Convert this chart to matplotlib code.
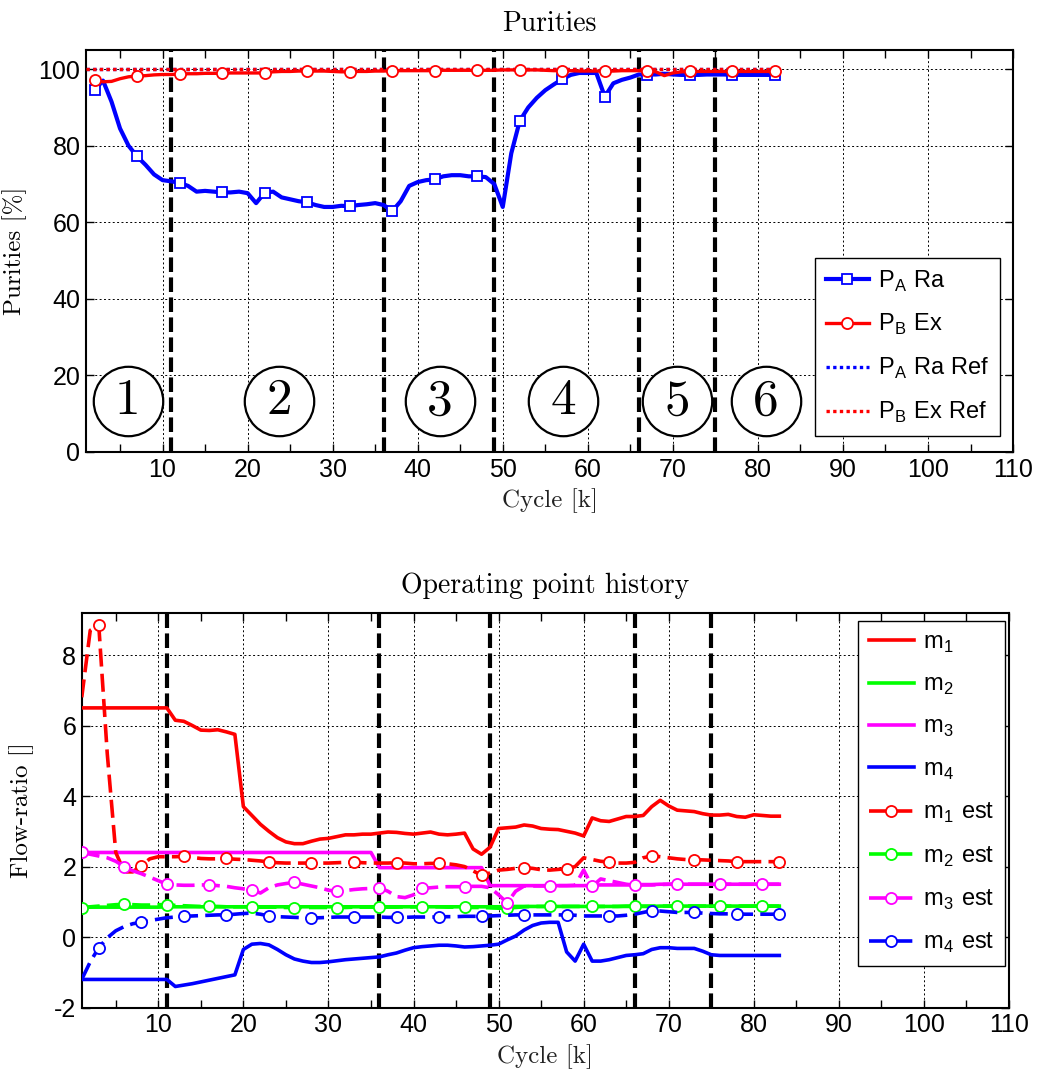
import matplotlib
matplotlib.use('Agg')
import matplotlib.pyplot as plt
import numpy as np
from matplotlib.ticker import MultipleLocator

plt.rcParams['font.family'] = 'Liberation Sans'
plt.rcParams['mathtext.fontset'] = 'cm'
plt.rcParams['axes.unicode_minus'] = False

# ---- Purities (cycles 2..82)
cyc_p = np.arange(2, 83)
pa_ra = [94.5, 97.0, 91.5, 84.5, 80.0, 77.2, 75.0, 72.5, 71.0, 70.7,
         70.3, 69.5, 68.0, 68.2, 68.0, 67.8, 67.8, 68.0, 67.6, 65.0,
         67.7, 68.0, 66.5, 66.0, 65.5, 65.2, 64.5, 64.0, 64.0, 64.3,
         64.2, 64.5, 64.7, 65.0, 64.5, 62.9, 65.5, 69.5, 70.5, 71.0,
         71.2, 72.0, 72.3, 72.3, 72.0, 72.0, 71.8, 70.0, 64.0, 78.0,
         86.5, 90.0, 92.5, 94.5, 96.0, 97.4, 98.5, 99.0, 99.0, 99.0,
         92.8, 96.3, 97.2, 97.8, 98.6, 98.6, 98.6, 98.8, 98.6, 98.5,
         98.5, 98.5, 98.6, 98.6, 98.6, 98.5, 98.5, 98.5, 98.5, 98.5,
         98.5]
pb_ex = [97.2, 96.7, 96.8, 97.5, 98.0, 98.2, 98.3, 98.5, 98.6, 98.6,
         98.7, 98.8, 98.8, 98.9, 98.9, 98.9, 99.0, 99.0, 99.0, 99.0,
         99.0, 99.3, 99.4, 99.4, 99.5, 99.5, 99.5, 99.5, 99.4, 99.3,
         99.3, 99.4, 99.4, 99.5, 99.5, 99.6, 99.6, 99.6, 99.6, 99.6,
         99.6, 99.7, 99.7, 99.7, 99.7, 99.7, 99.7, 99.7, 99.8, 99.8,
         99.8, 99.8, 99.8, 99.7, 99.6, 99.6, 99.6, 99.5, 99.5, 99.5,
         99.5, 99.5, 99.6, 99.6, 99.6, 99.6, 99.3, 98.3, 99.0, 99.3,
         99.4, 99.4, 99.4, 99.4, 99.4, 99.4, 99.4, 99.4, 99.4, 99.4,
         99.4]
cyc_ref = [1, 82]
pa_ref = [100, 100]
pb_ref = [100, 100]

# ---- Operating point history (cycles 1..83)
cyc_m = np.arange(1, 84)
m1 = [6.5, 6.5, 6.5, 6.5, 6.5, 6.5, 6.5, 6.5, 6.5, 6.5, 6.5,
      6.15, 6.12, 6.0, 5.87, 5.86, 5.88, 5.82, 5.75, 3.7, 3.45,
      3.2, 3.0, 2.82, 2.7, 2.65, 2.65, 2.72, 2.78, 2.8, 2.85,
      2.9, 2.9, 2.92, 2.92, 2.95, 2.98, 2.97, 2.94, 2.92, 2.95,
      2.98, 2.92, 2.9, 2.92, 2.95, 2.5, 2.35, 2.55, 3.08, 3.1,
      3.12, 3.18, 3.15, 3.08, 3.06, 3.05, 3.0, 2.95, 2.87, 3.38,
      3.3, 3.28, 3.35, 3.42, 3.42, 3.45, 3.7, 3.88, 3.72, 3.6,
      3.58, 3.56, 3.5, 3.46, 3.46, 3.48, 3.42, 3.4, 3.47, 3.45,
      3.43, 3.43]
m2 = [0.85, 0.85, 0.85, 0.85, 0.85, 0.85, 0.85, 0.85, 0.85, 0.85, 0.86,
      0.86, 0.86, 0.86, 0.86, 0.86, 0.86, 0.86, 0.86, 0.86, 0.86,
      0.86, 0.86, 0.86, 0.86, 0.86, 0.86, 0.86, 0.86, 0.86, 0.86,
      0.86, 0.86, 0.86, 0.86, 0.86, 0.86, 0.86, 0.86, 0.86, 0.86,
      0.86, 0.86, 0.86, 0.86, 0.86, 0.86, 0.86, 0.86, 0.86, 0.86,
      0.87, 0.87, 0.87, 0.87, 0.87, 0.87, 0.87, 0.87, 0.87, 0.87,
      0.87, 0.87, 0.87, 0.87, 0.87, 0.87, 0.87, 0.88, 0.88, 0.88,
      0.88, 0.88, 0.88, 0.88, 0.88, 0.88, 0.88, 0.88, 0.88, 0.88,
      0.88, 0.88]
m3 = [2.4, 2.4, 2.4, 2.4, 2.4, 2.4, 2.4, 2.4, 2.4, 2.4, 2.4,
      2.4, 2.4, 2.4, 2.4, 2.4, 2.4, 2.4, 2.4, 2.4, 2.4,
      2.4, 2.4, 2.4, 2.4, 2.4, 2.4, 2.4, 2.4, 2.4, 2.4,
      2.4, 2.4, 2.4, 2.4, 1.97, 1.97, 1.97, 1.97, 1.97, 1.97,
      1.97, 1.97, 1.97, 1.97, 1.97, 1.97, 1.97, 1.46, 1.46, 1.46,
      1.46, 1.46, 1.46, 1.46, 1.46, 1.46, 1.46, 1.46, 1.46, 1.47,
      1.48, 1.48, 1.48, 1.48, 1.49, 1.49, 1.49, 1.5, 1.5, 1.5,
      1.5, 1.5, 1.5, 1.5, 1.5, 1.5, 1.5, 1.5, 1.5, 1.5,
      1.5, 1.5]
m4 = [-1.2, -1.2, -1.2, -1.2, -1.2, -1.2, -1.2, -1.2, -1.2, -1.2, -1.2,
      -1.4, -1.36, -1.32, -1.27, -1.22, -1.17, -1.12, -1.07, -0.35, -0.2,
      -0.18, -0.22, -0.35, -0.5, -0.62, -0.68, -0.72, -0.72, -0.7, -0.67,
      -0.64, -0.62, -0.6, -0.58, -0.56, -0.5, -0.45, -0.37, -0.3, -0.27,
      -0.25, -0.23, -0.23, -0.25, -0.28, -0.27, -0.25, -0.23, -0.2, -0.08,
      0.03, 0.2, 0.33, 0.4, 0.42, 0.42, -0.42, -0.68, -0.2, -0.68,
      -0.68, -0.64, -0.58, -0.52, -0.5, -0.47, -0.35, -0.3, -0.3, -0.32,
      -0.32, -0.32, -0.4, -0.5, -0.52, -0.52, -0.52, -0.52, -0.52, -0.52,
      -0.52, -0.52]
m1_est = [6.8, 8.7, 8.85, 5.2, 2.4, 1.85, 1.85, 2.03, 2.22, 2.28, 2.28,
          2.28, 2.29, 2.26, 2.23, 2.22, 2.22, 2.23, 2.21, 2.2, 2.18,
          2.16, 2.13, 2.11, 2.1, 2.1, 2.1, 2.1, 2.1, 2.1, 2.11,
          2.12, 2.13, 2.11, 2.1, 2.1, 2.1, 2.11, 2.1, 2.08, 2.08,
          2.09, 2.09, 2.08, 2.05, 2.0, 1.88, 1.75, 1.82, 1.9, 1.92,
          1.95, 1.97, 1.95, 1.91, 1.9, 1.92, 1.94, 2.0, 2.25, 2.2,
          2.15, 2.13, 2.1, 2.1, 2.12, 2.25, 2.3, 2.28, 2.25, 2.22,
          2.2, 2.2, 2.19, 2.18, 2.17, 2.16, 2.14, 2.14, 2.14, 2.14,
          2.14, 2.14]
m2_est = [0.83, 0.86, 0.88, 0.9, 0.92, 0.93, 0.92, 0.91, 0.91, 0.92, 0.92,
          0.9, 0.89, 0.88, 0.87, 0.87, 0.87, 0.86, 0.86, 0.86, 0.86,
          0.85, 0.85, 0.85, 0.84, 0.84, 0.84, 0.84, 0.84, 0.84, 0.84,
          0.84, 0.85, 0.85, 0.85, 0.85, 0.85, 0.85, 0.86, 0.86, 0.86,
          0.86, 0.86, 0.85, 0.85, 0.85, 0.84, 0.84, 0.83, 0.82, 0.82,
          0.84, 0.86, 0.87, 0.87, 0.87, 0.87, 0.87, 0.87, 0.87, 0.87,
          0.87, 0.87, 0.87, 0.88, 0.88, 0.88, 0.88, 0.88, 0.88, 0.88,
          0.88, 0.88, 0.88, 0.88, 0.88, 0.88, 0.88, 0.88, 0.88, 0.88,
          0.88, 0.88]
m3_est = [2.4, 2.35, 2.3, 2.25, 2.15, 2.0, 1.88, 1.8, 1.7, 1.6, 1.5,
          1.48, 1.47, 1.47, 1.48, 1.48, 1.46, 1.44, 1.4, 1.37, 1.35,
          1.25, 1.4, 1.48, 1.52, 1.55, 1.5, 1.45, 1.4, 1.33, 1.3,
          1.32, 1.35, 1.37, 1.38, 1.4, 1.3, 1.15, 1.12, 1.2, 1.38,
          1.4, 1.42, 1.43, 1.43, 1.43, 1.44, 1.44, 1.4, 1.2, 0.97,
          1.3, 1.45, 1.45, 1.45, 1.45, 1.46, 1.46, 1.47, 1.9, 1.44,
          1.65, 1.6, 1.55, 1.5, 1.47, 1.48, 1.48, 1.49, 1.5, 1.5,
          1.5, 1.5, 1.5, 1.5, 1.5, 1.5, 1.5, 1.5, 1.5, 1.5,
          1.5, 1.5]
m4_est = [-1.2, -0.7, -0.3, -0.02, 0.18, 0.3, 0.38, 0.42, 0.47, 0.51, 0.55,
          0.57, 0.59, 0.6, 0.61, 0.62, 0.63, 0.63, 0.65, 0.67, 0.68,
          0.65, 0.6, 0.58, 0.57, 0.56, 0.55, 0.54, 0.55, 0.56, 0.57,
          0.57, 0.57, 0.57, 0.57, 0.57, 0.56, 0.56, 0.56, 0.57, 0.57,
          0.57, 0.57, 0.58, 0.58, 0.59, 0.59, 0.59, 0.6, 0.61, 0.62,
          0.63, 0.63, 0.63, 0.63, 0.63, 0.63, 0.63, 0.62, 0.6, 0.6,
          0.6, 0.6, 0.6, 0.62, 0.65, 0.7, 0.75, 0.74, 0.72, 0.7,
          0.7, 0.7, 0.68, 0.67, 0.66, 0.66, 0.66, 0.65, 0.65, 0.65,
          0.65, 0.65]

phase_bounds = [11, 36, 49, 66, 75]
phase_labels = ['1', '2', '3', '4', '5', '6']
phase_x = [5.9, 23.7, 42.6, 57.1, 70.5, 80.9]
phase_y = 13.2

serif = 'cmr10'

fig = plt.figure(figsize=(10.4, 10.73), dpi=100)
ax1 = fig.add_axes([0.0827, 0.5788, 0.8914, 0.3746])
ax2 = fig.add_axes([0.0786, 0.0609, 0.8916, 0.3681])


def style_axes(ax, ylim, yticks):
    ax.set_xlim(1, 110)
    ax.set_ylim(*ylim)
    ax.set_xticks(np.arange(10, 111, 10))
    ax.xaxis.set_minor_locator(MultipleLocator(5))
    ax.set_yticks(yticks)
    ax.tick_params(which='both', direction='in', top=True, right=True,
                   length=6, width=1, labelsize=18, pad=4)
    ax.grid(True, which='major', color='black', linestyle=(0, (2, 2.5)), linewidth=0.7)
    for s in ax.spines.values():
        s.set_linewidth(1.5)
    for xb in phase_bounds:
        ax.axvline(xb, color='black', linewidth=3.0, dashes=(3.5, 1.3), zorder=1.5)


# ---------- top
style_axes(ax1, (0, 105), np.arange(0, 101, 20))
ax1.plot(cyc_p, pa_ra, color='#0000FF', lw=3.0, marker='s', ms=7, mfc='white',
         mew=1.3, markevery=5, label='P$_{\\mathregular{A}}$ Ra', zorder=3)
ax1.plot(cyc_p, pb_ex, color='#FF0000', lw=2.4, marker='o', ms=8, mfc='white',
         mew=1.3, markevery=5, label='P$_{\\mathregular{B}}$ Ex', zorder=3)
ax1.plot(cyc_ref, pa_ref, color='#0000FF', lw=2.4, linestyle=(0, (1, 1)),
         label='P$_{\\mathregular{A}}$ Ra Ref', zorder=2.5)
ax1.plot(cyc_ref, pb_ref, color='#FF0000', lw=2.4, linestyle=(0, (1, 1)),
         label='P$_{\\mathregular{B}}$ Ex Ref', zorder=2.6)
ax1.plot(phase_x, [phase_y] * len(phase_x), linestyle='none', marker='o', ms=50,
         mfc='white', mec='black', mew=1.6, zorder=4)
for px, lab in zip(phase_x, phase_labels):
    ax1.text(px, phase_y, lab, fontfamily=serif, fontsize=37, ha='center',
             va='center', zorder=5)
ax1.set_title('Purities', fontfamily=serif, fontsize=20, pad=14)
ax1.set_ylabel('Purities [%]', fontfamily=serif, fontsize=18, labelpad=8)
ax1.set_xlabel('Cycle [k]', fontfamily=serif, fontsize=18, labelpad=5, color='#222222')
leg1 = ax1.legend(loc='lower right', bbox_to_anchor=(0.986, 0.04), borderaxespad=0,
                  fontsize=17, fancybox=False, edgecolor='black', framealpha=1,
                  handlelength=1.8, labelspacing=0.8, borderpad=0.45, handletextpad=0.4)
leg1.get_frame().set_linewidth(1.0)
leg1.set_zorder(6)

# ---------- bottom
style_axes(ax2, (-2, 9.2), np.arange(-2, 9, 2))
est_dash = (5, 2)
ax2.plot(cyc_m, m1, color='#FF0000', lw=2.6, label='m$_{\\mathregular{1}}$', zorder=3)
ax2.plot(cyc_m, m2, color='#00FF00', lw=2.6, label='m$_{\\mathregular{2}}$', zorder=3)
ax2.plot(cyc_m, m3, color='#FF00FF', lw=2.6, label='m$_{\\mathregular{3}}$', zorder=3)
ax2.plot(cyc_m, m4, color='#0000FF', lw=2.6, label='m$_{\\mathregular{4}}$', zorder=3)
ax2.plot(cyc_m, m1_est, color='#FF0000', lw=2.6, dashes=est_dash, marker='o', ms=8,
         mfc='white', mew=1.3, markevery=(2, 5), label='m$_{\\mathregular{1}}$ est', zorder=3)
ax2.plot(cyc_m, m2_est, color='#00FF00', lw=2.6, dashes=est_dash, marker='o', ms=8,
         mfc='white', mew=1.3, markevery=(0, 5), label='m$_{\\mathregular{2}}$ est', zorder=3)
ax2.plot(cyc_m, m3_est, color='#FF00FF', lw=2.6, dashes=est_dash, marker='o', ms=8,
         mfc='white', mew=1.3, markevery=(0, 5), label='m$_{\\mathregular{3}}$ est', zorder=3)
ax2.plot(cyc_m, m4_est, color='#0000FF', lw=2.6, dashes=est_dash, marker='o', ms=8,
         mfc='white', mew=1.3, markevery=(2, 5), label='m$_{\\mathregular{4}}$ est', zorder=3)
ax2.set_title('Operating point history', fontfamily=serif, fontsize=20, pad=14)
ax2.set_ylabel('Flow-ratio []', fontfamily=serif, fontsize=18, labelpad=14)
ax2.set_xlabel('Cycle [k]', fontfamily=serif, fontsize=18, labelpad=5, color='#222222')
leg2 = ax2.legend(loc='upper right', bbox_to_anchor=(0.9957, 0.979), borderaxespad=0,
                  fontsize=17, fancybox=False, edgecolor='black', framealpha=1,
                  handlelength=1.9, labelspacing=0.82, borderpad=0.45, handletextpad=0.4)
leg2.get_frame().set_linewidth(1.0)
leg2.set_zorder(6)

fig.savefig('out.png', dpi=100)
